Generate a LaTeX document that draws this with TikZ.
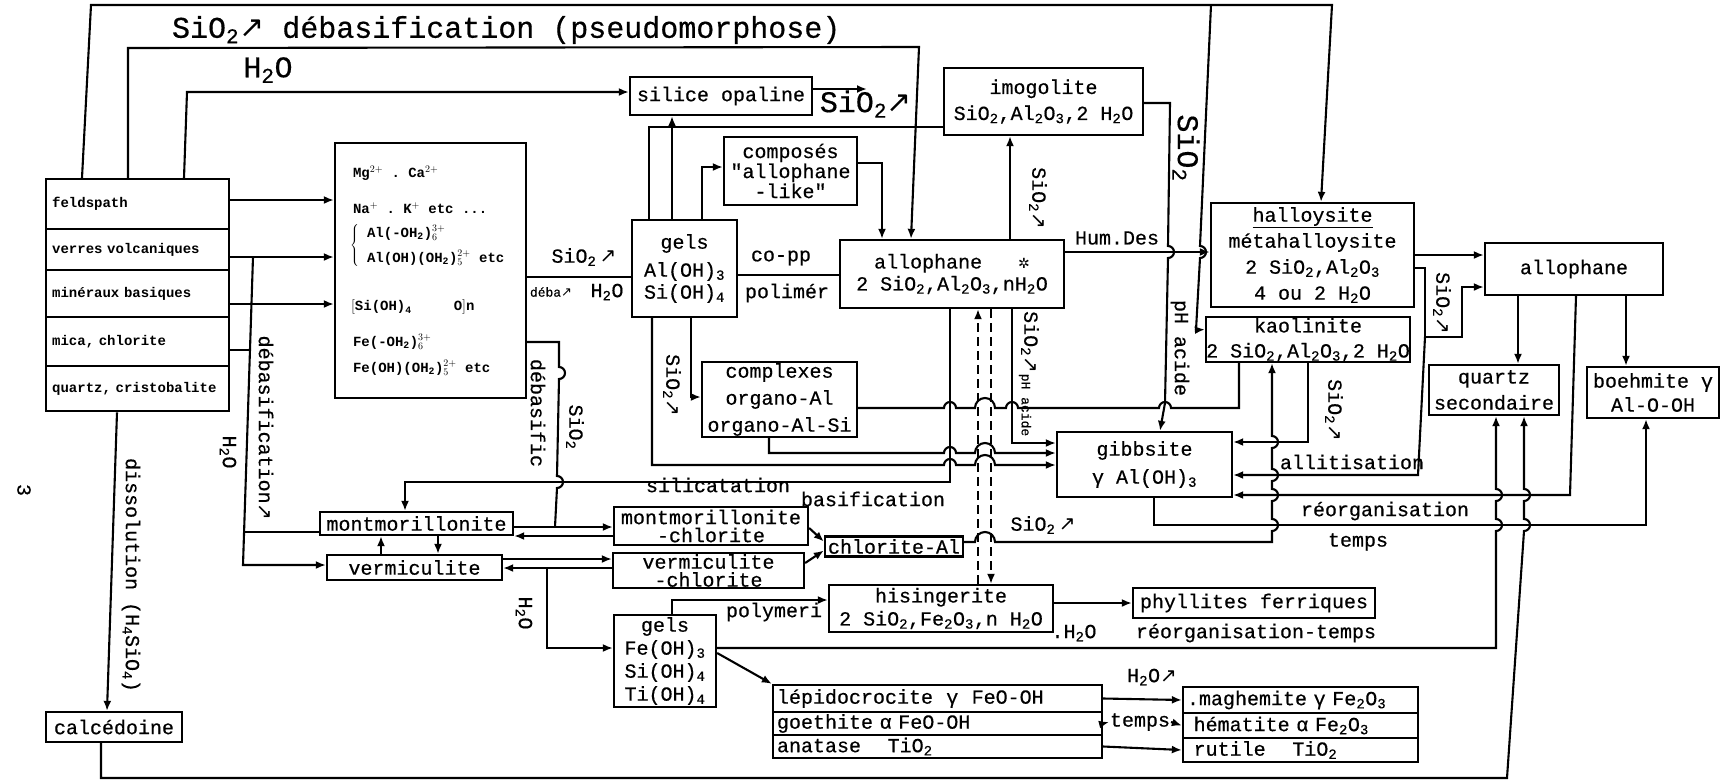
\documentclass[tikz,border=0pt]{standalone}
\usepackage{fontspec}
\setmonofont{Liberation Mono}
\newfontfamily\tyw[FakeBold=0.5]{Liberation Mono}
\newfontfamily\symf{DejaVu Sans}
\usetikzlibrary{arrows.meta,positioning,calc}

\newcommand\fmain{\fontsize{20}{22}\selectfont\tyw}
\newcommand\fbig{\fontsize{30}{32}\selectfont\tyw}
\newcommand\fsmall{\fontsize{14}{16}\selectfont\ttfamily\bfseries}
\newcommand\fion{\fontsize{14}{16}\selectfont\ttfamily\bfseries}
\newcommand\ftiny{\fontsize{13}{14}\selectfont\tyw}
\newcommand\dn[1]{\textsubscript{#1}}
\newcommand\arrNE{{\symf\char"2197}}
\newcommand\starmark{{\symf\fontsize{14}{14}\selectfont\char"2732}}

\begin{document}
\begin{tikzpicture}[x=1pt,y=-1pt,line width=2.1pt,
  box/.style={draw,line width=2.3pt,inner sep=0pt,align=center,font=\fmain},
  row/.style={draw,line width=2.3pt,anchor=north west,minimum width=183pt,
    text width=171pt,inner xsep=6pt,inner ysep=0pt,align=left,font=\fsmall},
  ion/.style={font=\fion,anchor=west,inner sep=0pt},
  lab/.style={font=\fmain,inner sep=1pt},
  biglab/.style={font=\fbig,inner sep=1pt},
  vlab/.style={font=\fmain,inner sep=1pt,rotate=-90},
  longdash/.style={dash pattern=on 9pt off 5pt},
  arr/.style={-{Latex[length=10pt,width=8pt]}}]
\useasboundingbox (0,0) rectangle (1733,782);

% parent rocks
\node[row,minimum height=50pt] (feld) at (45,178) {feldspath};
\node[row,minimum height=41pt] (verres) at (45,228) {verres volcaniques};
\node[row,minimum height=47pt] (basic) at (45,269) {minéraux basiques};
\node[row,minimum height=49pt] (mica) at (45,316) {mica, chlorite};
\node[row,minimum height=45pt] (quartz) at (45,365) {quartz, cristobalite};

% ions in solution
\node[draw,line width=2.3pt,minimum width=191pt,minimum height=255pt] (ions) at (430.5,270.5) {};
\node[ion] (ion1) at (352,173) {Mg$^{2+}$ . Ca$^{2+}$};
\node[ion] (ion2) at (352,208) {Na$^{+}$ . K$^{+}$ etc ...};
\node[ion] (ionbr) at (349,245) {$\left\{\vcenter{\hbox{\rule{0pt}{40pt}}}\right.$};
\node[ion] (ion3) at (366,233) {Al(-OH\dn{2})$_6^{3+}$};
\node[ion] (ion4) at (366,258) {Al(OH)(OH\dn{2})$_5^{2+}$ etc};
\node[ion] (ion5) at (350,307) {$\Bigl[$Si(OH)\dn{4}\ \ \ \ \ O$\Bigr]$n};
\node[ion] (ion6) at (352,342) {Fe(-OH\dn{2})$_6^{3+}$};
\node[ion] (ion7) at (352,368) {Fe(OH)(OH\dn{2})$_5^{2+}$ etc};

% main boxes
\node[box,minimum width=182pt,minimum height=38pt] (silice) at (721,96) {silice opaline};
\node[box,minimum width=199pt,minimum height=67pt] (imogo) at (1043.5,101.5)
  {imogolite\\[4pt]SiO\dn{2},Al\dn{2}O\dn{3},2 H\dn{2}O};
\node[box,minimum width=133pt,minimum height=68pt,font=\fontsize{20}{20}\selectfont\tyw] (compos) at (790.5,171)
  {composés\\"allophane\\-like"};
\node[box,minimum width=105pt,minimum height=97pt] (gelsal) at (684.5,268.5)
  {gels\\[6pt]Al(OH)\dn{3}\\Si(OH)\dn{4}};
\node[box,minimum width=224pt,minimum height=68pt] (allo) at (952,274)
  {allophane\ \ \ \starmark\\2 SiO\dn{2},Al\dn{2}O\dn{3},nH\dn{2}O};
\node[box,minimum width=155pt,minimum height=75pt,font=\fontsize{20}{27}\selectfont\tyw] (cplx) at (779.5,399.5)
  {complexes\\organo-Al\\organo-Al-Si};
\node[box,minimum width=203pt,minimum height=104pt,font=\fontsize{20}{26}\selectfont\tyw] (hallo) at (1312.5,255)
  {\underline{halloysite}\\métahalloysite\\2 SiO\dn{2},Al\dn{2}O\dn{3}\\4 ou 2 H\dn{2}O};
\node[box,minimum width=204pt,minimum height=45pt,font=\fontsize{20}{25}\selectfont\tyw] (kaol) at (1308,339.5)
  {kaolinite\\2 SiO\dn{2},Al\dn{2}O\dn{3},2 H\dn{2}O};
\node[box,minimum width=178pt,minimum height=52pt] (allob) at (1574,269) {allophane};
\node[box,minimum width=130pt,minimum height=50pt,font=\fontsize{20}{26}\selectfont\tyw] (qsec) at (1494,390)
  {quartz\\secondaire};
\node[box,minimum width=132pt,minimum height=51pt,font=\fontsize{20}{24}\selectfont\tyw] (boeh) at (1653,392.5)
  {boehmite γ\\Al-O-OH};
\node[box,minimum width=175pt,minimum height=65pt,font=\fontsize{20}{28}\selectfont\tyw] (gibb) at (1144.5,464.5)
  {gibbsite\\γ Al(OH)\dn{3}};

% clay minerals
\node[box,minimum width=193pt,minimum height=23pt] (mont) at (416.5,523.5) {montmorillonite};
\node[box,minimum width=175pt,minimum height=25pt] (verm) at (414.5,567.5) {vermiculite};
\node[box,minimum width=194pt,minimum height=38pt,font=\fontsize{20}{18}\selectfont\tyw] (montch) at (711,526)
  {montmorillonite\\-chlorite};
\node[box,minimum width=191pt,minimum height=35pt,font=\fontsize{20}{18}\selectfont\tyw] (vermch) at (708.5,570.5)
  {vermiculite\\-chlorite};
\node[box,minimum width=138pt,minimum height=20pt] (chlal) at (894,546.5) {chlorite-Al};

% iron and titanium
\node[box,minimum width=102pt,minimum height=92pt,font=\fontsize{20}{23}\selectfont\tyw] (gelsfe) at (665,661)
  {gels\\Fe(OH)\dn{3}\\Si(OH)\dn{4}\\Ti(OH)\dn{4}};
\node[box,minimum width=224pt,minimum height=47pt,font=\fontsize{20}{23}\selectfont\tyw] (hising) at (941,608.5)
  {hisingerite\\2 SiO\dn{2},Fe\dn{2}O\dn{3},n H\dn{2}O};
\node[box,minimum width=242pt,minimum height=30pt] (phyll) at (1254,603) {phyllites ferriques};
\node[box,minimum width=329pt,minimum height=27pt,text width=321pt,align=left] (lepido) at (937.5,698.5)
  {lépidocrocite\ \ γ\ \ FeO-OH};
\node[box,minimum width=329pt,minimum height=23pt,text width=321pt,align=left] (goeth) at (937.5,723.5)
  {goethite α FeO-OH};
\node[box,minimum width=329pt,minimum height=23pt,text width=321pt,align=left] (anat) at (937.5,746.5)
  {anatase\ \ \ \ TiO\dn{2}};
\node[box,minimum width=235pt,minimum height=26pt,text width=227pt,align=left] (maghe) at (1300.5,700)
  {.maghemite γ Fe\dn{2}O\dn{3}};
\node[box,minimum width=235pt,minimum height=25pt,text width=227pt,align=left] (hemat) at (1300.5,725.5)
  {\ hématite α Fe\dn{2}O\dn{3}};
\node[box,minimum width=235pt,minimum height=24pt,text width=227pt,align=left] (rutile) at (1300.5,750)
  {\ rutile\ \ \ \ TiO\dn{2}};
\node[box,minimum width=136pt,minimum height=30pt] (calced) at (114,727) {calcédoine};

% labels
\node[biglab,anchor=west] (ttl) at (170,30) {SiO\dn{2}\arrNE\ débasification (pseudomorphose)};
\node[biglab] (h2otop) at (268,70) {H\dn{2}O};
\node[biglab] (sio2sil) at (866,104) {SiO\dn{2}\arrNE};
\node[lab] (sio2ion) at (584,257) {SiO\dn{2}\,\arrNE};
\node[font=\ftiny,inner sep=1pt] (deba) at (551,292) {déba\arrNE};
\node[lab] (h2oion) at (607,292) {H\dn{2}O};
\node[lab] (copp) at (781,258) {co-pp};
\node[lab] (polim) at (787,293) {polimér};
\node[lab] (humdes) at (1117,238) {Hum.Des};
\node[vlab] (sio2imo) at (1038,198) {SiO\dn{2}\arrNE};
\node[vlab,font=\fbig] (sio2top) at (1186,148) {SiO\dn{2}};
\node[vlab] (phac) at (1180,348) {pH acide};
\node[vlab] (sio2gib) at (1030,342) {SiO\dn{2}\arrNE};
\node[vlab,font=\ftiny] (phac2) at (1025,405) {pH acide};
\node[vlab] (sio2gel) at (672,385) {SiO\dn{2}\arrNE};
\node[vlab] (sio2kao) at (1334,410) {SiO\dn{2}\arrNE};
\node[vlab] (sio2hal) at (1442,303) {SiO\dn{2}\arrNE};
\node[lab,fill=white] (silic) at (718,485) {silicatation};
\node[lab] (basif) at (873,499) {basification};
\node[lab] (sio2chl) at (1043,525) {SiO\dn{2}\,\arrNE};
\node[lab] (allit) at (1352,462) {allitisation};
\node[lab] (reorg) at (1385,511) {réorganisation};
\node[lab] (temps) at (1358,542) {temps};
\node[lab] (polym) at (774,612) {polymeri};
\node[lab] (h2ohis) at (1074,633) {.H\dn{2}O};
\node[lab] (reorgt) at (1256,633) {réorganisation-temps};
\node[lab] (h2olep) at (1152,677) {H\dn{2}O\arrNE};
\node[lab,fill=white,inner sep=0pt] (tempsb) at (1140,722) {temps};
\node[vlab] (debas) at (266,428) {débasification\arrNE};
\node[vlab] (h2odeb) at (228,452) {H\dn{2}O};
\node[vlab] (debasf) at (538,413) {débasific};
\node[vlab] (sio2deb) at (575,427) {SiO\dn{2}};
\node[vlab] (h2ofe) at (524,613) {H\dn{2}O};
\node[vlab] (dissol) at (131,575) {dissolution (H\dn{4}SiO\dn{4})};
\node[vlab] (pagenum) at (24,490) {3};

% outer frame lines
\draw[arr] ([xshift=37pt]feld.north west) -- (91,5) -- (1332,5) -- (hallo.north -| 1321,0);
\coordinate (topj) at (1211,5);
\draw[arr] (topj) -- (1200,246) arc[start angle=90,end angle=-90,radius=6pt] -- (1196,330) -- ([yshift=10pt]kaol.west);
\draw[arr] ([xshift=83pt]feld.north west) -- (128,48) -- (919,47) -- (allo.north -| 911,0);
\draw[arr] ([xshift=139pt]feld.north west) -- (187,92) -- (silice.west |- 0,92);
\draw[arr] (calced.south -| 101,0) -- (101,778) -- (1507,778) -- (1524,531)
  arc[start angle=-90,end angle=90,radius=6pt] -- (1524,501)
  arc[start angle=-90,end angle=90,radius=6pt] -- (qsec.south -| 1524,0);

% rocks to ions
\draw[arr] (feld.east |- 0,200) -- (ions.west |- 0,200);
\draw[arr] (verres.east |- 0,257) -- (ions.west |- 0,257);
\draw[arr] (basic.east |- 0,304) -- (ions.west |- 0,304);
\draw (mica.east |- 0,350) -- (251,350);
\coordinate (verj) at (253,257);
\draw[arr] (verj) -- (243,565) -- (verm.west |- 0,565);
\draw (245,532) -- (mont.west |- 0,532);
\draw[arr] (quartz.south -| 117,0) -- (calced.north -| 107,0);

% ions, gels and silica
\draw (ions.east |- 0,277) -- (gelsal.west |- 0,277);
\draw (ions.east |- 0,342) -- (559,342) -- (559,367) arc[start angle=90,end angle=-90,radius=6pt]
  -- (557,476) arc[start angle=90,end angle=-90,radius=6pt] -- (555,527);
\draw (gelsal.north -| 649,0) -- (649,127) -- (imogo.west |- 0,127);
\draw[arr] (gelsal.north -| 672,0) -- (silice.south -| 672,0);
\draw[arr] (gelsal.north -| 702,0) -- (702,167) -- (compos.west |- 0,167);
\draw[arr] (compos.east |- 0,163) -- (882,163) -- (allo.north -| 882,0);
\draw[arr] ([yshift=7pt]silice.east) -- (867,89);
\draw (gelsal.east |- 0,275) -- (allo.west |- 0,275);
\draw[arr] (gelsal.south -| 652,0) -- (652,465) -- (944,465) arc[start angle=180,end angle=0,radius=6pt]
  -- (975,465) arc[start angle=180,end angle=0,radius=10pt] -- (gibb.west |- 0,465);
\draw[arr] (gelsal.south -| 691,0) -- (691,397) -- (cplx.west |- 0,397);

% allophane
\draw[arr] (allo.north -| 1010,0) -- (imogo.south -| 1010,0);
\draw[arr] (allo.east |- 0,252) -- (hallo.west |- 0,252);
\draw[arr] (imogo.east |- 0,103) -- (1170,103) -- (1168,246) arc[start angle=90,end angle=-90,radius=6pt]
  -- (1165,403) -- (gibb.north -| 1160,0);
\draw[arr] (allo.south -| 950,0) -- (950,482) -- (405,482) -- (mont.north -| 405,0);
\draw[arr,longdash] (hising.north -| 978,0) -- (allo.south -| 978,0);
\draw[arr,longdash] (allo.south -| 991,0) -- (hising.north -| 991,0);
\draw[arr] (allo.south -| 1012,0) -- (1012,443) -- (gibb.west |- 0,443);
\draw (cplx.east |- 0,408) -- (944,408) arc[start angle=180,end angle=0,radius=6pt]
  -- (975,408) arc[start angle=180,end angle=0,radius=10pt]
  -- (1006,408) arc[start angle=180,end angle=0,radius=6pt]
  -- (1159,408) arc[start angle=180,end angle=0,radius=6pt]
  -- (1239,408) -- (kaol.south -| 1239,0);
\draw[arr] (cplx.south -| 769,0) -- (769,453) -- (944,453) arc[start angle=180,end angle=0,radius=6pt]
  -- (975,453) arc[start angle=180,end angle=0,radius=10pt] -- (gibb.west |- 0,453);

% kaolinite, halloysite, gibbsite
\draw[arr] (kaol.south -| 1308,0) -- (1308,442) -- (gibb.east |- 0,442);
\draw[arr] (chlal.east |- 0,542) -- (975,542) arc[start angle=180,end angle=0,radius=10pt]
  -- (1272,542) -- (1272,531) arc[start angle=-90,end angle=90,radius=6pt]
  -- (1272,501) arc[start angle=-90,end angle=90,radius=6pt]
  -- (1272,481) arc[start angle=-90,end angle=90,radius=6pt]
  -- (1272,448) arc[start angle=-90,end angle=90,radius=6pt]
  -- (kaol.south -| 1272,0);
\draw[arr] (hallo.east |- 0,255) -- (allob.west |- 0,255);
\coordinate (halj) at (1425,337);
\draw[arr] (hallo.east |- 0,268) -- (1425,268) -- (halj) -- (1462,337) -- (1462,287) -- (allob.west |- 0,287);
\draw[arr] (halj) -- (1418,475) -- (gibb.east |- 0,475);
\draw[arr] (allob.south -| 1518,0) -- (qsec.north -| 1518,0);
\draw[arr] (allob.south -| 1626,0) -- (boeh.north -| 1626,0);
\draw[arr] (allob.south -| 1576,0) -- (1570,495) -- (gibb.east |- 0,495);
\draw[arr] (gibb.south -| 1154,0) -- (1154,525) -- (1646,525) -- (boeh.south -| 1646,0);

% clays
\draw[arr] (mont.east |- 0,527) -- (montch.west |- 0,527);
\draw[arr] (montch.west |- 0,536) -- (mont.east |- 0,536);
\draw[arr] (verm.east |- 0,559) -- (vermch.west |- 0,559);
\draw[arr] (vermch.west |- 0,568) -- (verm.east |- 0,568);
\draw[arr] (verm.north -| 381,0) -- (mont.south -| 381,0);
\draw[arr] (mont.south -| 438,0) -- (verm.north -| 438,0);
\draw[arr] (montch.east |- 0,528) -- ([yshift=5pt]chlal.west);
\draw[arr] (vermch.east |- 0,563) -- ([yshift=-4pt]chlal.west);
\coordinate (vermj) at (547,568);
\draw[arr] (vermj) -- (547,648) -- (gelsfe.west |- 0,648);

% iron gels
\draw[arr] (gelsfe.north -| 672,0) -- (672,600) -- (hising.west |- 0,600);
\draw[arr] (hising.east |- 0,603) -- (phyll.west |- 0,603);
\draw[arr] (gelsfe.east |- 0,648) -- (1496,648) -- (1496,531)
  arc[start angle=-90,end angle=90,radius=6pt] -- (1496,501)
  arc[start angle=-90,end angle=90,radius=6pt] -- (qsec.south -| 1496,0);
\draw[arr] (gelsfe.east |- 0,653) -- (lepido.north west);
\draw[arr] (lepido.east) -- (maghe.west);
\draw[arr] (goeth.east) -- (tempsb.west);
\draw[arr] (tempsb.east) -- (hemat.west);
\draw[arr] (anat.east) -- (rutile.west);
\end{tikzpicture}
\end{document}
